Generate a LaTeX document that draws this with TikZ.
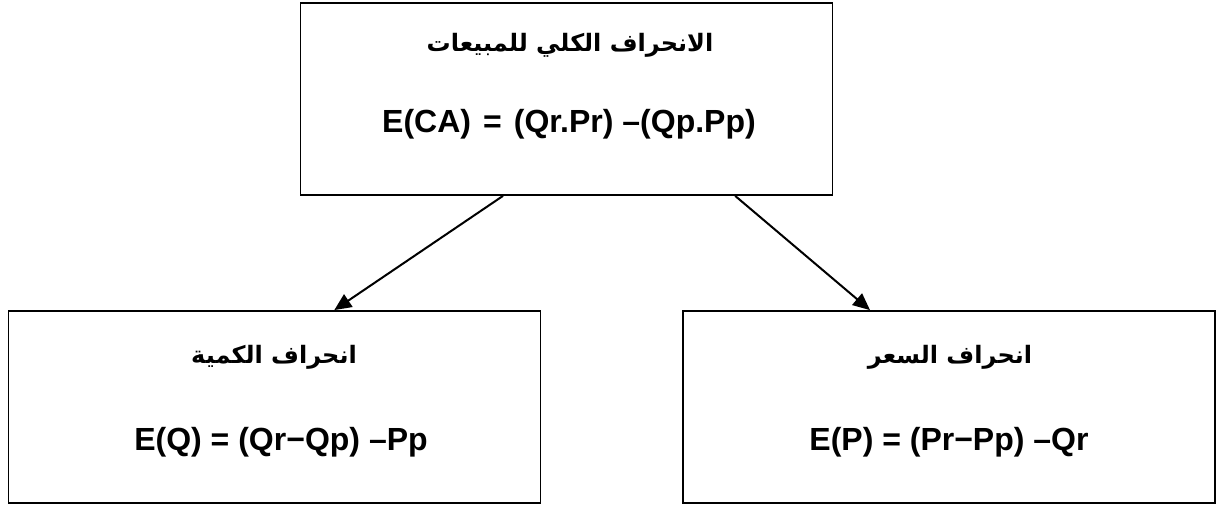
\documentclass[tikz,border=0pt]{standalone}
\usepackage{fontspec}
\setmainfont{Liberation Sans}
\newfontfamily\arabicfont[Script=Arabic]{DejaVu Sans}
\TeXXeTstate=1
\usetikzlibrary{arrows.meta,calc}
\begin{document}
\begin{tikzpicture}[
  x=0.5pt, y=-0.5pt,
  box/.style={draw, line width=0.9pt, minimum width=266pt, minimum height=96pt, inner sep=0pt},
  title/.style={font=\arabicfont\bfseries\fontsize{12}{14}\selectfont, inner sep=0pt},
  formula/.style={font=\bfseries\fontsize{16}{19}\selectfont, inner sep=0pt},
  arr/.style={line width=1pt, -{Triangle[length=8.5pt,width=7.5pt]}}
]
  \useasboundingbox (0,0) rectangle (1227,504);

  % Total sales deviation
  \node[box] (top) at (566.5,99) {};
  \node[title] (toptitle) at (570,45) {\beginR الانحراف الكلي للمبيعات\endR};
  \node[formula] (topform) at (569,124) {E(CA)\hspace{1.6pt} = \hspace{1.6pt}(Qr.Pr) –(Qp.Pp)};

  % Quantity deviation
  \node[box] (left) at (274.5,407) {};
  \node[title] (lefttitle) at (274,357) {\beginR انحراف الكمية\endR};
  \node[formula] (leftform) at (281,442) {E(Q) = (Qr−Qp) –Pp};

  % Price deviation
  \node[box] (right) at (949,407) {};
  \node[title] (righttitle) at (950,357) {\beginR انحراف السعر\endR};
  \node[formula] (rightform) at (949,442) {E(P) = (Pr−Pp) –Qr};

  % Arrows from the top box down
  \draw[arr] ($(top.south west)!0.381!(top.south east)$) -- ($(left.north west)!0.612!(left.north east)$);
  \draw[arr] ($(top.south west)!0.816!(top.south east)$) -- ($(right.north west)!0.352!(right.north east)$);
\end{tikzpicture}
\end{document}
